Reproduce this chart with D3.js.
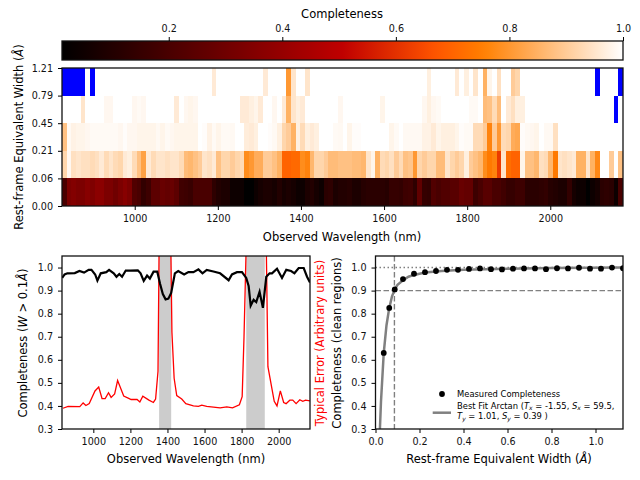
<!DOCTYPE html>
<html>
<head>
<meta charset="utf-8">
<script src="https://cdn.jsdelivr.net/npm/d3@7"></script>
<style>
body { margin: 0; background: #fff; }
text { font-family: "DejaVu Sans", sans-serif; fill: #000; }
.tick text { font-size: 9.6px; fill: #111; }
.tick line, .domain { stroke: #000; }
.title { font-size: 11.5px; }
</style>
</head>
<body>
<div id="chart"></div>
<script>
// limites das linhas do mapa (rotulos do eixo y)
const ew_edges = ["0.00", "0.06", "0.21", "0.45", "0.79", "1.21"];

// completeza por coluna, null = regiao sem dados (azul)
const row_000 = [
    .2, .33, .35, .33, .33, .36, .34, .37, .37, .33,
    .33, .3, .33, .36, .33, .22, .2, .14, .17, .25,
    .25, .28, .27, .28, .25, .18, .17, .16, .2, .2,
    .2, .2, .13, .1, .08, .09, .05, .04, .03, .015,
    .015, .04, .07, .09, .08, .07, .1, .06, .08, .07,
    .05, .03, .09, .1, .07, .05, .12, .13, .09, .1,
    .1, .11, .09, .08, .11, .12, .12, .12, .12, .11,
    .15, .15, .14, .17, .18, .13, .26, .15, .14, .22,
    .2, .22, .22, .24, .24, .28, .27, .27, .17, .2,
    .24, .24, .2, .2, .18, .15, .15, .17, .17, .12,
    .12, .12, .13, .14, .11, .1, .08, .08, .14, .07,
    .03, .03, .025, .03, .06, .12, .13, .12, .03, .2
];
const row_006 = [
    .92, .985, .94, .95, .94, .94, .93, .94, .96, .93,
    .95, .93, .92, .96, .97, .93, .88, .82, .96, .93,
    .95, .95, .94, .95, .95, .93, .87, .86, .88, .9,
    .95, .94, .96, .88, .92, .92, .9, .92, .93, .78,
    .8, .84, .84, .9, .9, .88, .85, .7, .7, .71,
    .71, .78, .76, .86, .92, .92, .9, .87, .87, .88,
    .88, .88, .87, .87, .86, .95, .98, .85, .93, .92,
    .94, .9, .93, .88, .89, .8, .92, .9, .92, .92,
    .87, .87, .95, .92, .9, .92, .97, .9, .88, .86,
    .78, .74, .76, .62, .95, .72, .7, .7, .98, .88,
    .88, .86, .94, .93, .86, .74, .95, .94, .95, .96,
    .85, .85, .95, .85, .77, 1, 1, .9, 1, .88
];
const row_021 = [
    .88, .988, .975, .98, .98, .985, .99, .99, .99, .99,
    .99, .99, .985, .995, .985, .985, .98, .98, .98, .98,
    .988, .98, .99, .985, .98, .98, .98, .98, .98, 1,
    .995, .975, .99, .98, .99, .99, .988, 1, 1, .965,
    .96, .97, 1, 1, .995, .988, .97, .92, .9, .85,
    .97, .93, .97, .96, .97, 1, 1, 1, .99, .988,
    1, .98, .995, .995, 1, 1, 1, 1, 1, 1,
    .98, .99, 1, .988, .988, .988, .988, .975, .975, .96,
    .98, .97, .97, .97, .98, .995, .99, .99, .93, .93,
    .9, .76, .9, .8, .93, .92, .84, .83, .995, .988,
    .985, .98, 1, .988, .988, .94, 1, 1, 1, 1,
    1, 1, 1, 1, 1, 1, 1, 1, 1, 1
];
const row_045 = [
    1, 1, 1, 1, .95, 1, 1, 1, 1, .985,
    .985, 1, 1, 1, 1, .985, .99, .985, 1, 1,
    1, 1, 1, 1, .96, 1, .985, .98, .985, 1,
    1, 1, 1, 1, 1, 1, 1, 1, .96, .96,
    .97, .98, .96, 1, 1, .985, 1, .96, .85, .95,
    .97, .96, 1, 1, 1, 1, 1, 1, 1, .985,
    1, 1, 1, 1, 1, 1, 1, 1, .98, 1,
    1, 1, 1, 1, 1, 1, 1, .985, .97, .985,
    .99, 1, 1, 1, 1, 1, 1, .99, .99, 1,
    .87, .88, .93, .87, 1, .96, .94, .97, .97, 1,
    1, 1, 1, 1, 1, 1, 1, 1, 1, 1,
    1, 1, 1, 1, 1, 1, 1, 1, null, 1
];
const row_079 = [
    null, null, null, null, null, 1, null, 1, 1, 1,
    1, 1, 1, 1, 1, 1, 1, 1, 1, 1,
    1, 1, 1, 1, 1, 1, 1, 1, 1, 1,
    1, 1, .96, 1, 1, 1, 1, 1, 1, 1,
    1, 1, 1, .96, 1, 1, 1, 1, .8, .95,
    1, 1, .95, 1, 1, 1, 1, 1, 1, 1,
    1, 1, 1, 1, 1, 1, 1, 1, 1, 1,
    1, 1, 1, 1, 1, 1, 1, 1, .97, 1,
    1, 1, 1, 1, .96, 1, .97, 1, .95, 1,
    .85, .98, 1, .94, 1, 1, .9, .92, 1, 1,
    1, 1, 1, 1, 1, 1, 1, 1, 1, 1,
    1, 1, 1, 1, null, 1, 1, 1, 1, null
];
const heat_rows = [row_000, row_006, row_021, row_045, row_079];

const cbar_ticks = [0.2, 0.4, 0.6, 0.8, 1.0];
const heat_ticks = [1000, 1200, 1400, 1600, 1800, 2000];

// painel inferior esquerdo
const black_wave = [832, 845, 860, 900, 925, 950, 975, 990, 1010, 1022, 1040, 1070, 1085, 1110, 1125, 1140, 1155, 1175, 1200, 1240, 1255, 1272, 1290, 1305, 1325, 1345, 1360, 1375, 1390, 1405, 1420, 1440, 1458, 1490, 1513, 1540, 1567, 1589, 1612, 1648, 1684, 1730, 1748, 1775, 1802, 1825, 1838, 1849, 1865, 1879, 1897, 1915, 1933, 1951, 1964, 1991, 2018, 2041, 2067, 2085, 2108, 2135, 2153, 2169];
const black_comp = [.955, .97, .975, .976, .985, .978, .99, .99, .97, .943, .975, .98, .99, .975, .96, .972, .96, .987, .987, .988, .975, .942, .965, .952, .982, .982, .93, .885, .862, .865, .89, .975, .985, .97, .98, .98, .992, .975, .99, .983, .975, .945, .97, .98, .98, .955, .92, .835, .86, .85, .895, .825, .96, .975, .975, .995, .955, .99, .985, .975, .998, .998, .96, .935];
const red_wave = [836, 864, 927, 945, 960, 978, 1009, 1029, 1047, 1064, 1082, 1096, 1115, 1131, 1164, 1191, 1204, 1236, 1251, 1267, 1300, 1324, 1336, 1349, 1355, 1418, 1424, 1436, 1450, 1477, 1499, 1540, 1567, 1585, 1612, 1648, 1684, 1720, 1751, 1788, 1803, 1813, 1825, 1933, 1942, 1976, 1991, 2009, 2027, 2040, 2060, 2076, 2094, 2114, 2130, 2145, 2169];
const red_err = [.39, .398, .397, .413, .402, .41, .465, .482, .432, .432, .457, .437, .452, .51, .443, .433, .428, .428, .417, .442, .425, .415, .43, .55, 1.1, 1.1, .72, .52, .445, .43, .41, .4, .398, .403, .398, .395, .392, .396, .392, .405, .44, .7, 1.1, 1.1, .57, .42, .4, .465, .415, .41, .425, .425, .41, .427, .42, .425, .422];
const telluric_start = [1355, 1825];
const telluric_end = [1420, 1925];
const left_x_ticks = [1000, 1200, 1400, 1600, 1800, 2000];
const comp_ticks = [0.3, 0.4, 0.5, 0.6, 0.7, 0.8, 0.9, 1.0];

// painel inferior direito
const ew_points = [.0375, .0625, .0875, .125, .175, .225, .275, .325, .375, .425, .475, .525, .575, .625, .675, .725, .775, .825, .875, .925, .975, 1.025, 1.075, 1.125];
const ew_comp = [.63, .825, .905, .95, .973, .98, .985, .99, .99, .994, .996, .993, .992, .995, .996, .996, .993, .997, .996, .999, .995, .995, 1.0, .997];
const fit_x = [.018, .025, .0375, .05, .0625, .075, .0875, .1, .125, .15, .175, .225, .3, .4, .6, .8, 1.125];
const fit_y = [.25, .42, .63, .75, .825, .875, .905, .925, .945, .96, .968, .978, .985, .99, .995, .998, 1.0];
const right_x_ticks = [0, 0.2, 0.4, 0.6, 0.8, 1.0];
const limit_ew = 0.086;

const svg = d3.select("#chart").append("svg")
    .attr("width", 640)
    .attr("height", 480);

// mapa de cores gist_heat
function gist_heat(v) {
    var t = (v - 0.012) / (1 - 0.012);
    var r = Math.min(1, Math.max(0, 1.5 * t));
    var g = Math.min(1, Math.max(0, 2 * t - 1));
    var b = Math.min(1, Math.max(0, 4 * t - 3));
    return d3.rgb(r * 255, g * 255, b * 255).formatHex();
}

function frame(x0, y0, x1, y1) {
    svg.append("rect")
        .attr("x", x0).attr("y", y0)
        .attr("width", x1 - x0).attr("height", y1 - y0)
        .attr("fill", "none")
        .attr("stroke", "#111")
        .attr("stroke-width", 1.3);
}

function label(txt, x, y, rot, color) {
    const t = svg.append("text")
        .attr("class", "title")
        .attr("text-anchor", "middle")
        .attr("transform", "translate(" + x + "," + y + ") rotate(" + rot + ")")
        .style("fill", color || "#000");
    return t.text(txt);
}

const defs = svg.append("defs");
// leve suavizacao do mapa, como na imagem original
defs.append("filter").attr("id", "soft")
    .append("feGaussianBlur").attr("stdDeviation", 0.4);

// --- barra de cores ---
const cb = { left: 62, right: 623, top: 41, bottom: 60 };
const x_cb = d3.scaleLinear().domain([0.012, 1]).range([cb.left, cb.right]);

const grad = defs.append("linearGradient").attr("id", "cb_grad");
grad.selectAll("stop")
    .data(d3.range(0, 1.001, 0.02))
    .join("stop")
    .attr("offset", d => d)
    .attr("stop-color", d => gist_heat(0.012 + d * (1 - 0.012)));

svg.append("rect")
    .attr("x", cb.left).attr("y", cb.top)
    .attr("width", cb.right - cb.left).attr("height", cb.bottom - cb.top)
    .attr("fill", "url(#cb_grad)");
frame(cb.left, cb.top, cb.right, cb.bottom);

svg.append("g")
    .attr("transform", "translate(0," + cb.top + ")")
    .call(d3.axisTop(x_cb).tickValues(cbar_ticks).tickFormat(d3.format(".1f")).tickSize(4).tickPadding(5.5).tickSizeOuter(0))
    .call(g => g.select(".domain").remove());
label("Completeness", 342, 17.5, 0);

// --- mapa ---
const hm = { left: 62, right: 623, top: 68, bottom: 206 };
const x_hm = d3.scaleLinear().domain([825, 2175]).range([hm.left, hm.right]);
const y_hm = d3.scalePoint().domain(ew_edges).range([hm.bottom, hm.top]);
const bin_nm = 1350 / heat_rows[0].length;

const g_hm = svg.append("g").attr("filter", "url(#soft)");
heat_rows.forEach(function (row, j) {
    g_hm.append("g")
        .attr("shape-rendering", "crispEdges")
        .selectAll("rect")
        .data(row)
        .join("rect")
        .attr("x", (d, i) => x_hm(825 + i * bin_nm))
        .attr("width", (d, i) => x_hm(825 + (i + 1) * bin_nm) - x_hm(825 + i * bin_nm))
        .attr("y", y_hm(ew_edges[j + 1]))
        .attr("height", y_hm(ew_edges[j]) - y_hm(ew_edges[j + 1]))
        .attr("fill", d => d === null ? "#0000ff" : gist_heat(d));
});
frame(hm.left, hm.top, hm.right, hm.bottom);

svg.append("g")
    .attr("transform", "translate(0," + hm.bottom + ")")
    .call(d3.axisBottom(x_hm).tickValues(heat_ticks).tickFormat(d3.format("d")).tickSize(4).tickPadding(5).tickSizeOuter(0))
    .call(g => g.select(".domain").remove());
svg.append("g")
    .attr("transform", "translate(" + hm.left + ",0)")
    .call(d3.axisLeft(y_hm).tickSize(4).tickPadding(5).tickSizeOuter(0))
    .call(g => g.select(".domain").remove());

label("Observed Wavelength (nm)", 342, 240.5, 0);
const hm_y = label("", 23, 137, -90);
hm_y.append("tspan").text("Rest-frame Equivalent Width (");
hm_y.append("tspan").style("font-style", "italic").text("Å");
hm_y.append("tspan").text(")");

// --- painel esquerdo ---
const pl = { left: 62, right: 310, top: 256, bottom: 429 };
const x_l = d3.scaleLinear().domain([831, 2169]).range([pl.left, pl.right]);
const y_comp = d3.scaleLinear().domain([0.3, 1.05]).range([pl.bottom, pl.top]);

svg.append("clipPath").attr("id", "clip_l").append("rect")
    .attr("x", pl.left).attr("y", pl.top)
    .attr("width", pl.right - pl.left).attr("height", pl.bottom - pl.top);

const g_l = svg.append("g").attr("clip-path", "url(#clip_l)");
g_l.selectAll("rect")
    .data(telluric_start)
    .join("rect")
    .attr("x", d => x_l(d))
    .attr("width", (d, i) => x_l(telluric_end[i]) - x_l(d))
    .attr("y", pl.top)
    .attr("height", pl.bottom - pl.top)
    .attr("fill", "#cccccc");

g_l.append("path")
    .attr("d", d3.line().x(d => x_l(d)).y((d, i) => y_comp(red_err[i]))(red_wave))
    .attr("fill", "none")
    .attr("stroke", "#ff0000")
    .attr("stroke-width", 1.3);
g_l.append("path")
    .attr("d", d3.line().x(d => x_l(d)).y((d, i) => y_comp(black_comp[i]))(black_wave))
    .attr("fill", "none")
    .attr("stroke", "#000")
    .attr("stroke-width", 2.2);

frame(pl.left, pl.top, pl.right, pl.bottom);
svg.append("g")
    .attr("transform", "translate(0," + pl.bottom + ")")
    .call(d3.axisBottom(x_l).tickValues(left_x_ticks).tickFormat(d3.format("d")).tickSize(4).tickPadding(5).tickSizeOuter(0))
    .call(g => g.select(".domain").remove());
svg.append("g")
    .attr("transform", "translate(" + pl.left + ",0)")
    .call(d3.axisLeft(y_comp).tickValues(comp_ticks).tickFormat(d3.format(".1f")).tickSize(4).tickPadding(5).tickSizeOuter(0))
    .call(g => g.select(".domain").remove());

label("Observed Wavelength (nm)", 186, 463, 0);
const l_y = label("", 27, 343, -90);
l_y.append("tspan").text("Completeness (");
l_y.append("tspan").style("font-style", "italic").text("W");
l_y.append("tspan").text(" > 0.1");
l_y.append("tspan").style("font-style", "italic").text("Å");
l_y.append("tspan").text(")");
label("Typical Error (Arbitrary units)", 323.5, 343, -90, "#ff0000");

// --- painel direito ---
const pr = { left: 375.5, right: 623, top: 256, bottom: 429 };
const x_r = d3.scaleLinear().domain([0, 1.125]).range([pr.left, pr.right]);

svg.append("clipPath").attr("id", "clip_r").append("rect")
    .attr("x", pr.left).attr("y", pr.top)
    .attr("width", pr.right - pr.left).attr("height", pr.bottom - pr.top);

const g_r = svg.append("g").attr("clip-path", "url(#clip_r)");

g_r.append("line")
    .attr("x1", x_r(0)).attr("x2", x_r(1.125))
    .attr("y1", y_comp(1.0)).attr("y2", y_comp(1.0))
    .attr("stroke", "#808080").attr("stroke-width", 1.4).attr("stroke-dasharray", "1.5,2.5");
g_r.append("line")
    .attr("x1", x_r(0)).attr("x2", x_r(1.125))
    .attr("y1", y_comp(0.9)).attr("y2", y_comp(0.9))
    .attr("stroke", "#808080").attr("stroke-width", 1.4).attr("stroke-dasharray", "5.5,2.5");
g_r.append("line")
    .attr("x1", x_r(limit_ew)).attr("x2", x_r(limit_ew))
    .attr("y1", pr.top).attr("y2", pr.bottom)
    .attr("stroke", "#808080").attr("stroke-width", 1.4).attr("stroke-dasharray", "5.5,2.5");

g_r.append("path")
    .attr("d", d3.line().x(d => x_r(d)).y((d, i) => y_comp(fit_y[i]))(fit_x))
    .attr("fill", "none")
    .attr("stroke", "#808080")
    .attr("stroke-width", 2.5);

g_r.selectAll("circle")
    .data(ew_points)
    .join("circle")
    .attr("cx", d => x_r(d))
    .attr("cy", (d, i) => y_comp(ew_comp[i]))
    .attr("r", 2.9)
    .attr("fill", "#000");

frame(pr.left, pr.top, pr.right, pr.bottom);
svg.append("g")
    .attr("transform", "translate(0," + pr.bottom + ")")
    .call(d3.axisBottom(x_r).tickValues(right_x_ticks).tickFormat(d3.format(".1f")).tickSize(4).tickPadding(5).tickSizeOuter(0))
    .call(g => g.select(".domain").remove());
svg.append("g")
    .attr("transform", "translate(" + pr.left + ",0)")
    .call(d3.axisLeft(y_comp).tickValues(comp_ticks).tickFormat(d3.format(".1f")).tickSize(4).tickPadding(5).tickSizeOuter(0))
    .call(g => g.select(".domain").remove());

const r_x = label("", 499, 463, 0);
r_x.append("tspan").text("Rest-frame Equivalent Width (");
r_x.append("tspan").style("font-style", "italic").text("Å");
r_x.append("tspan").text(")");
label("Completeness (clean regions)", 341, 343, -90);

// legenda
svg.append("circle").attr("cx", 442).attr("cy", 394).attr("r", 2.9).attr("fill", "#000");
svg.append("line")
    .attr("x1", 432.7).attr("x2", 451).attr("y1", 412.7).attr("y2", 412.7)
    .attr("stroke", "#808080").attr("stroke-width", 2.5);

function legend_text(x, y, parts) {
    const t = svg.append("text").attr("x", x).attr("y", y).style("font-size", "8.4px");
    parts.forEach(function (p) {
        const s = t.append("tspan").text(p.t);
        if (p.i) s.style("font-style", "italic");
        if (p.sub) s.attr("dy", 1.5).style("font-size", "6px");
        if (p.up) s.attr("dy", -1.5);
    });
}
legend_text(457, 396.5, [{ t: "Measured Completeness" }]);
legend_text(457, 408.5, [
    { t: "Best Fit Arctan (" }, { t: "T", i: 1 }, { t: "x", i: 1, sub: 1 }, { t: " = -1.55, ", up: 1 },
    { t: "S", i: 1 }, { t: "x", i: 1, sub: 1 }, { t: " = 59.5,", up: 1 }
]);
legend_text(457, 419, [
    { t: "T", i: 1 }, { t: "y", i: 1, sub: 1 }, { t: " = 1.01, ", up: 1 },
    { t: "S", i: 1 }, { t: "y", i: 1, sub: 1 }, { t: " = 0.39 )", up: 1 }
]);
</script>
</body>
</html>
